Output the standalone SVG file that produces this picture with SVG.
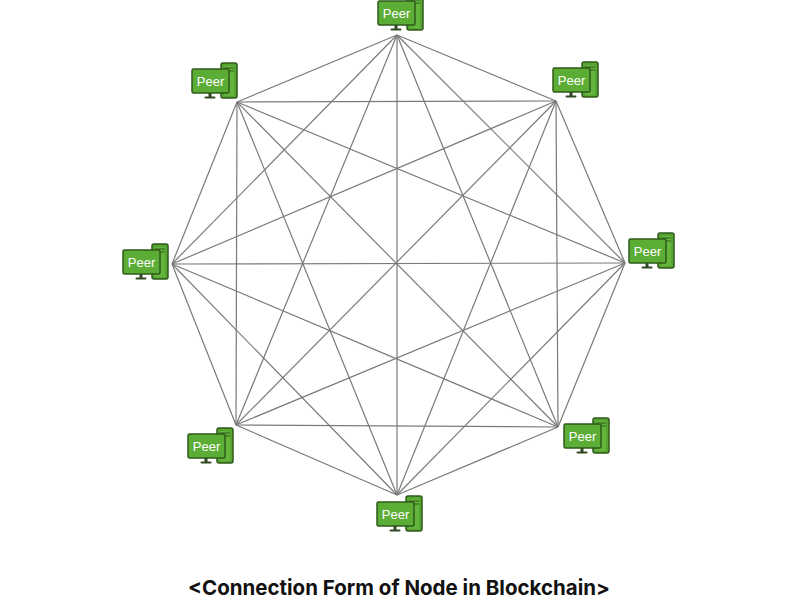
<svg xmlns="http://www.w3.org/2000/svg" xmlns:xlink="http://www.w3.org/1999/xlink" width="800" height="600" viewBox="0 0 800 600">
<style>
.edge{stroke:#7a7a7a;stroke-width:1.2;fill:none}
.mon{fill:#5cad36;stroke:#2f5a1a;stroke-width:1.5}
.tow{fill:#56a532;stroke:#2f5a1a;stroke-width:1.5}
.slot{stroke:#2f5a1a;stroke-width:1}
.stand{fill:#2f4a22}
.lbl{font-family:"Liberation Sans",Arial,sans-serif;font-size:13px;fill:#ffffff;text-anchor:middle}
.title{font-family:Inter,"Liberation Sans",sans-serif;font-size:20.5px;font-weight:700;fill:#111;text-anchor:middle}
</style>
<defs>
<g id="pc">
<rect class="tow" x="29" y="-6" width="16" height="35" rx="2"/>
<rect x="32" y="-3" width="10" height="30" fill="#63b53c" stroke="none"/>
<line class="slot" x1="32" y1="-1" x2="42" y2="-1"/>
<line class="slot" x1="32" y1="2" x2="42" y2="2"/>
<rect class="mon" x="0" y="0" width="37" height="24" rx="1.5"/>
<rect class="stand" x="16.5" y="24" width="3" height="4"/>
<rect class="stand" x="12.5" y="27.5" width="11" height="2" rx="1"/>
</g>
</defs>
<rect width="800" height="600" fill="#ffffff"/>
<g id="connectors">
<line class="edge" x1="397" y1="35" x2="556" y2="101"/>
<line class="edge" x1="397" y1="35" x2="625" y2="263"/>
<line class="edge" x1="397" y1="35" x2="558" y2="427"/>
<line class="edge" x1="397" y1="35" x2="397" y2="495"/>
<line class="edge" x1="397" y1="35" x2="236" y2="425"/>
<line class="edge" x1="397" y1="35" x2="172" y2="264"/>
<line class="edge" x1="397" y1="35" x2="237" y2="102"/>
<line class="edge" x1="556" y1="101" x2="625" y2="263"/>
<line class="edge" x1="556" y1="101" x2="558" y2="427"/>
<line class="edge" x1="556" y1="101" x2="397" y2="495"/>
<line class="edge" x1="556" y1="101" x2="236" y2="425"/>
<line class="edge" x1="556" y1="101" x2="172" y2="264"/>
<line class="edge" x1="556" y1="101" x2="237" y2="102"/>
<line class="edge" x1="625" y1="263" x2="558" y2="427"/>
<line class="edge" x1="625" y1="263" x2="397" y2="495"/>
<line class="edge" x1="625" y1="263" x2="236" y2="425"/>
<line class="edge" x1="625" y1="263" x2="172" y2="264"/>
<line class="edge" x1="625" y1="263" x2="237" y2="102"/>
<line class="edge" x1="558" y1="427" x2="397" y2="495"/>
<line class="edge" x1="558" y1="427" x2="236" y2="425"/>
<line class="edge" x1="558" y1="427" x2="172" y2="264"/>
<line class="edge" x1="558" y1="427" x2="237" y2="102"/>
<line class="edge" x1="397" y1="495" x2="236" y2="425"/>
<line class="edge" x1="397" y1="495" x2="172" y2="264"/>
<line class="edge" x1="397" y1="495" x2="237" y2="102"/>
<line class="edge" x1="236" y1="425" x2="172" y2="264"/>
<line class="edge" x1="236" y1="425" x2="237" y2="102"/>
<line class="edge" x1="172" y1="264" x2="237" y2="102"/>
</g>
<g id="peer-top" transform="translate(378,1)"><use xlink:href="#pc" href="#pc"/><text class="lbl" x="18.5" y="16.5">Peer</text></g>
<g id="peer-top-right" transform="translate(553,68)"><use xlink:href="#pc" href="#pc"/><text class="lbl" x="18.5" y="16.5">Peer</text></g>
<g id="peer-right" transform="translate(629,239)"><use xlink:href="#pc" href="#pc"/><text class="lbl" x="18.5" y="16.5">Peer</text></g>
<g id="peer-bottom-right" transform="translate(564,424)"><use xlink:href="#pc" href="#pc"/><text class="lbl" x="18.5" y="16.5">Peer</text></g>
<g id="peer-bottom" transform="translate(377,502)"><use xlink:href="#pc" href="#pc"/><text class="lbl" x="18.5" y="16.5">Peer</text></g>
<g id="peer-bottom-left" transform="translate(188,434)"><use xlink:href="#pc" href="#pc"/><text class="lbl" x="18.5" y="16.5">Peer</text></g>
<g id="peer-left" transform="translate(123,250)"><use xlink:href="#pc" href="#pc"/><text class="lbl" x="18.5" y="16.5">Peer</text></g>
<g id="peer-top-left" transform="translate(192,69)"><use xlink:href="#pc" href="#pc"/><text class="lbl" x="18.5" y="16.5">Peer</text></g>
<text class="title" x="399" y="595">&lt;Connection Form of Node in Blockchain&gt;</text>
</svg>
